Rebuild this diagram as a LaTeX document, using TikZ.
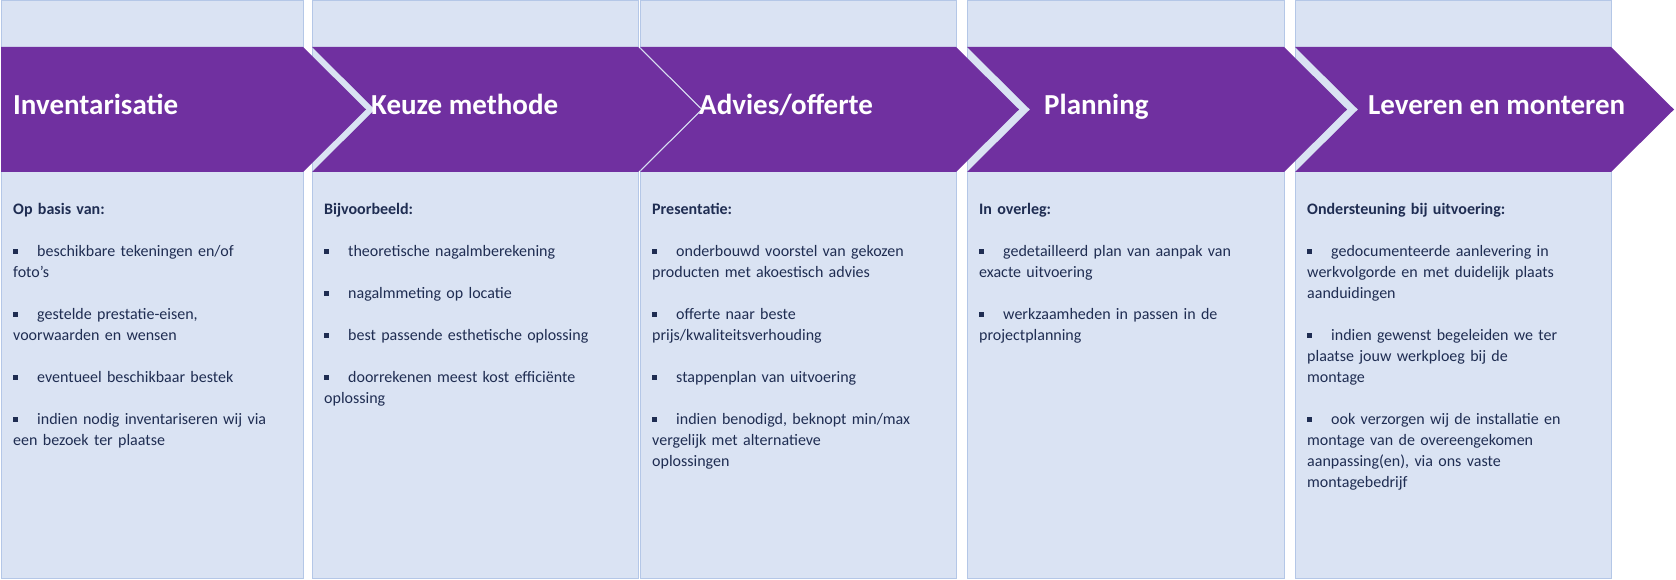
\documentclass[tikz,border=0pt]{standalone}
\usepackage{fontspec}
\setmainfont{Carlito}
\definecolor{stagepurple}{HTML}{7030A0}
\definecolor{panelfill}{HTML}{DAE3F3}
\definecolor{panelline}{HTML}{B4C7E7}
\definecolor{bodynavy}{HTML}{1F2D52}
\newcommand{\itm}[1]{\par\noindent\hangindent=24pt\hangafter=1\makebox[24pt][l]{\raisebox{2.5pt}{\rule{4.5pt}{4.5pt}}}#1\par\vspace{21pt}}
\tikzset{
  panel/.style={fill=panelfill, draw=panelline, line width=1pt},
  stagetitle/.style={anchor=base west, text=white, font=\fontsize{29}{34}\selectfont\bfseries, inner sep=0pt},
  stagebody/.style={anchor=north west, text=bodynavy, text width=290pt, align=left, inner sep=0pt,
    font=\fontsize{16}{21}\selectfont}
}
\begin{document}
\begin{tikzpicture}[x=1pt,y=-1pt]
\useasboundingbox (0,0) rectangle (1676,580);

% Panels behind the chevrons
\foreach \L/\R [count=\i] in {1/303, 312/638, 640/956, 967/1284, 1295/1611}
  \draw[panel] (\L,1) rectangle (\R,578);

% Chevrons
\fill[stagepurple] (1,47) -- (303,47) -- (366,109.5) -- (303,172) -- (1,172) -- cycle;
\foreach \L/\R in {312/638, 640/956, 967/1284, 1295/1611}
  \fill[stagepurple] (\L,47) -- (\R,47) -- (\R+63,109.5) -- (\R,172) -- (\L,172) -- (\L+63,109.5) -- cycle;

% Titles
\node[stagetitle] (inventarisatie) at (13,115) {Inventarisatie};
\node[stagetitle] (keuze) at (371,115) {Keuze methode};
\node[stagetitle] (advies) at (699,115) {Advies/offerte};
\node[stagetitle] (planning) at (1044,115) {Planning};
\node[stagetitle] (leveren) at (1368,115) {Leveren en monteren};

% Body texts
\node[stagebody] (bodyinv) at (13,203) {\textbf{Op basis van:}\par\vspace{21pt}
  \itm{beschikbare tekeningen en/of\\foto’s}
  \itm{gestelde prestatie-eisen,\\voorwaarden en wensen}
  \itm{eventueel beschikbaar bestek}
  \itm{indien nodig inventariseren wij via\\een bezoek ter plaatse}};
\node[stagebody] (bodykeuze) at (324,203) {\textbf{Bijvoorbeeld:}\par\vspace{21pt}
  \itm{theoretische nagalmberekening}
  \itm{nagalmmeting op locatie}
  \itm{best passende esthetische oplossing}
  \itm{doorrekenen meest kost efficiënte\\oplossing}};
\node[stagebody] (bodyadvies) at (652,203) {\textbf{Presentatie:}\par\vspace{21pt}
  \itm{onderbouwd voorstel van gekozen\\producten met akoestisch advies}
  \itm{offerte naar beste\\prijs/kwaliteitsverhouding}
  \itm{stappenplan van uitvoering}
  \itm{indien benodigd, beknopt min/max\\vergelijk met alternatieve\\oplossingen}};
\node[stagebody] (bodyplanning) at (979,203) {\textbf{In overleg:}\par\vspace{21pt}
  \itm{gedetailleerd plan van aanpak van\\exacte uitvoering}
  \itm{werkzaamheden in passen in de\\projectplanning}};
\node[stagebody] (bodyleveren) at (1307,203) {\textbf{Ondersteuning bij uitvoering:}\par\vspace{21pt}
  \itm{gedocumenteerde aanlevering in\\werkvolgorde en met duidelijk plaats\\aanduidingen}
  \itm{indien gewenst begeleiden we ter\\plaatse jouw werkploeg bij de\\montage}
  \itm{ook verzorgen wij de installatie en\\montage van de overeengekomen\\aanpassing(en), via ons vaste\\montagebedrijf}};
\end{tikzpicture}
\end{document}
